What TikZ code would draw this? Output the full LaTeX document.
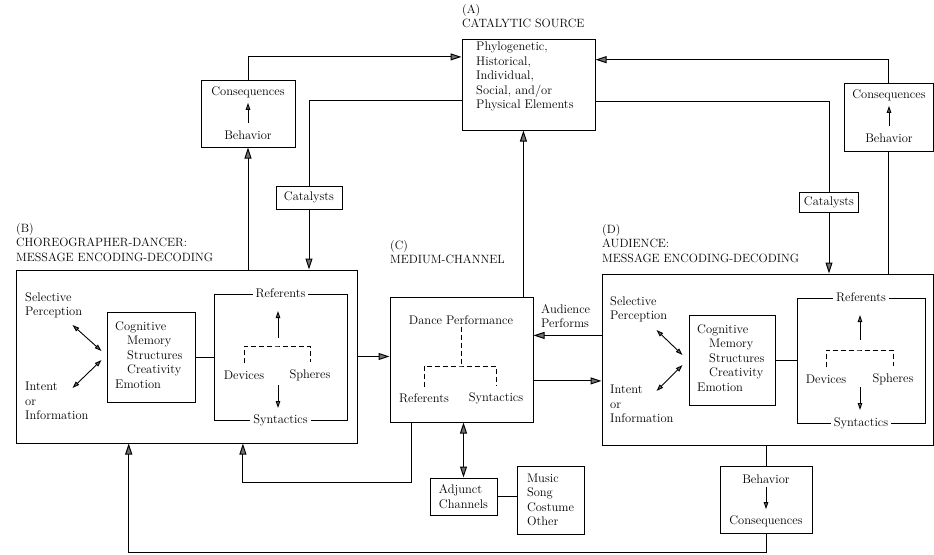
\documentclass[tikz,border=0pt]{standalone}
\usepackage{tikz}
\usetikzlibrary{arrows.meta,positioning,fit,calc}

\begin{document}
\begin{tikzpicture}[
    x=1pt, y=-1pt,
    font=\fontsize{12.5}{14.5}\selectfont,
    box/.style={rectangle, draw, line width=1pt, inner sep=0pt},
    catbox/.style={rectangle, draw, line width=1pt, inner sep=2pt},
    txt/.style={align=left, inner sep=0pt},
    word/.style={inner sep=2pt},
    head/.style={align=left, inner sep=0pt, font=\fontsize{12}{14.5}\selectfont},
    lbl/.style={fill=white, inner sep=3pt},
    arrow/.style={-{Triangle[length=11pt,width=7pt,fill=black!55]}, line width=1pt},
    dblarrow/.style={{Triangle[length=11pt,width=7pt,fill=black!55]}-{Triangle[length=11pt,width=7pt,fill=black!55]}, line width=1pt},
    link/.style={line width=1pt},
    thinlink/.style={line width=0.9pt},
    tip/.style={-{Triangle[length=7pt,width=4.5pt,fill=black!55]}, line width=0.9pt},
    dbl/.style={{Triangle[length=7pt,width=4.5pt,fill=black!55]}-{Triangle[length=7pt,width=4.5pt,fill=black!55]}, line width=0.9pt},
    dashbr/.style={dash pattern=on 5pt off 3pt, line width=0.9pt}
]

\fill[white] (0,0) rectangle (934,554);
\useasboundingbox (0,0) rectangle (934,554);

% (A) Catalytic source
\node[head, anchor=north west] (headA) at (462,4) {(A)\\CATALYTIC SOURCE};
\node[box, fit={(462,39) (595,130)}] (A) {};
\node[txt, anchor=north west] (textA) at (476,42) {Phylogenetic,\\Historical,\\Individual,\\Social, and/or\\Physical Elements};

% Consequences / Behavior (top)
\node[box, fit={(201,80) (295,147)}] (conL) {};
\node[word] (csqL) at (248,92) {Consequences};
\node[word] (behL) at (248,135) {Behavior};
\draw[tip] ([yshift=5pt]behL.north) -- ([yshift=-3pt]csqL.south);

\node[box, fit={(844,83) (933,151)}] (conR) {};
\node[word] (csqR) at (889,95) {Consequences};
\node[word] (behR) at (889,138) {Behavior};
\draw[tip] ([yshift=5pt]behR.north) -- ([yshift=-3pt]csqR.south);

% Catalysts
\node[catbox, minimum width=66pt, minimum height=23pt] (catL) at (309,197.5) {Catalysts};
\node[catbox, minimum width=59pt, minimum height=20pt] (catR) at (829,202) {Catalysts};

% (B) Choreographer-dancer
\node[head, anchor=north west] (headB) at (16,223) {(B)\\CHOREOGRAPHER-DANCER:\\MESSAGE ENCODING-DECODING};
\node[box, fit={(16,270) (357,443)}] (B) {};
\node[txt, anchor=north west] (selB) at (25,292) {Selective\\Perception};
\node[txt, anchor=north west] (intB) at (25,382) {Intent\\or\\Information};
\node[box, fit={(107,312) (195,402)}] (cogB) {};
\node[txt, anchor=north west] (cogtxtB) at (115,321) {Cognitive\\\hspace*{12pt}Memory\\\hspace*{12pt}Structures\\\hspace*{12pt}Creativity\\Emotion};
\draw[dbl] ([xshift=-34pt,yshift=32pt]cogB.west) -- ([xshift=-5pt,yshift=6pt]cogB.west);
\draw[dbl] ([xshift=-34pt,yshift=-31pt]cogB.west) -- ([xshift=-5pt,yshift=-3pt]cogB.west);
\node[box, fit={(214,294) (347,420)}] (frmB) {};
\draw[thinlink] (cogB.east) -- (cogB.east -| frmB.west);
\node[lbl] (refB) at (frmB.north) {Referents};
\node[lbl] (synB) at (frmB.south) {Syntactics};
\node[word] (devB) at (244,375) {Devices};
\node[word] (sphB) at (310,375) {Spheres};
\coordinate (brB) at (278,346);
\draw[dashbr] ([yshift=5pt]devB.north) |- (brB) -| ([yshift=5pt]sphB.north);
\draw[tip] ([yshift=8pt]brB) -- ++(0,-27);
\draw[tip] ([yshift=-39pt]brB) -- ++(0,23);

% (C) Medium-channel
\node[head, anchor=north west] (headC) at (390,240) {(C)\\MEDIUM-CHANNEL};
\node[box, fit={(390,297) (533,422)}] (C) {};
\node[word] (dpC) at (461,320) {Dance Performance};
\node[word] (refC) at (424,398) {Referents};
\node[word] (synC) at (496,398) {Syntactics};
\coordinate (brC) at (461,366);
\draw[dashbr] (dpC.south) -- (brC);
\draw[dashbr] ([yshift=4pt]refC.north) |- (brC) -| ([yshift=4pt]synC.north);
\node[txt, anchor=north west] (perfC) at (541,304) {Audience\\Performs};

% (D) Audience
\node[head, anchor=north west] (headD) at (602,224) {(D)\\AUDIENCE:\\MESSAGE ENCODING-DECODING};
\node[box, fit={(602,274) (933,445)}] (D) {};
\node[txt, anchor=north west] (selD) at (610,296) {Selective\\Perception};
\node[txt, anchor=north west] (intD) at (610,385) {Intent\\or\\Information};
\node[box, fit={(689,315) (775,405)}] (cogD) {};
\node[txt, anchor=north west] (cogtxtD) at (697,324) {Cognitive\\\hspace*{12pt}Memory\\\hspace*{12pt}Structures\\\hspace*{12pt}Creativity\\Emotion};
\draw[dbl] ([xshift=-32pt,yshift=30pt]cogD.west) -- ([xshift=-6pt,yshift=5pt]cogD.west);
\draw[dbl] ([xshift=-32pt,yshift=-31pt]cogD.west) -- ([xshift=-6pt,yshift=-5pt]cogD.west);
\node[box, fit={(797,298) (925,423)}] (frmD) {};
\draw[thinlink] (cogD.east) -- (cogD.east -| frmD.west);
\node[lbl] (refD) at (frmD.north) {Referents};
\node[lbl] (synD) at (frmD.south) {Syntactics};
\node[word] (devD) at (826,379) {Devices};
\node[word] (sphD) at (893,379) {Spheres};
\coordinate (brD) at (860,350);
\draw[dashbr] ([yshift=5pt]devD.north) |- (brD) -| ([yshift=5pt]sphD.north);
\draw[tip] ([yshift=10pt]brD) -- ++(0,-25);
\draw[tip] ([yshift=-37pt]brD) -- ++(0,23);

% Adjunct channels
\node[box, align=left, minimum width=67pt, minimum height=37pt] (adj) at (463.5,496.5) {Adjunct\\Channels};
\node[box, align=left, minimum width=67pt, minimum height=68pt] (adjList) at (550.5,500) {Music\\Song\\Costume\\Other};

% Behavior / Consequences (bottom)
\node[box, fit={(720,466) (812,533)}] (conD) {};
\node[word] (behD) at (766,479) {Behavior};
\node[word] (csqD) at (766,521) {Consequences};
\draw[tip] ([yshift=-1pt]behD.south) -- ([yshift=4pt]csqD.north);

% Source connections
\draw[arrow] (conL.north) |- ($(A.north west)!0.2!(A.south west)$);
\draw[arrow] (conR.north) |- ($(A.north east)!0.23!(A.south east)$);
\draw[link] ($(A.north west)!0.67!(A.south west)$) -| (catL.north);
\draw[link] ($(A.north east)!0.69!(A.south east)$) -| (catR.north);
\draw[arrow] (catL.south) -- (catL.south |- B.north);
\draw[arrow] (catR.south) -- (catR.south |- D.north);
\draw[arrow] (B.north -| conL.south) -- (conL.south);
\draw[link] (D.north -| conR.south) -- (conR.south);

% Channel connections
\coordinate (Ctop) at ($(C.north west)!0.93!(C.north east)$);
\draw[arrow] (Ctop) -- (Ctop |- A.south);
\draw[arrow] (B.east) -- (B.east -| C.west);
\coordinate (Dperf) at ($(D.north west)!0.36!(D.south west)$);
\draw[arrow] (Dperf) -- (Dperf -| C.east);
\coordinate (Cout) at ($(C.north east)!0.67!(C.south east)$);
\draw[arrow] (Cout) -- (Cout -| D.west);
\draw[dblarrow] (adj.north |- C.south) -- (adj.north);
\draw[link] (adj.east) -- (adj.east -| adjList.west);

% Feedback
\coordinate (Cbot) at ($(C.south west)!0.15!(C.south east)$);
\coordinate (Bret) at ($(B.south west)!0.665!(B.south east)$);
\draw[arrow] (Cbot) -- ++(0,60) -| (Bret);
\draw[link] (conD.north |- D.south) -- (conD.north);
\coordinate (Bfb) at ($(B.south west)!0.331!(B.south east)$);
\draw[arrow] (conD.south) -- ++(0,19) -| (Bfb);

\end{tikzpicture}
\end{document}
